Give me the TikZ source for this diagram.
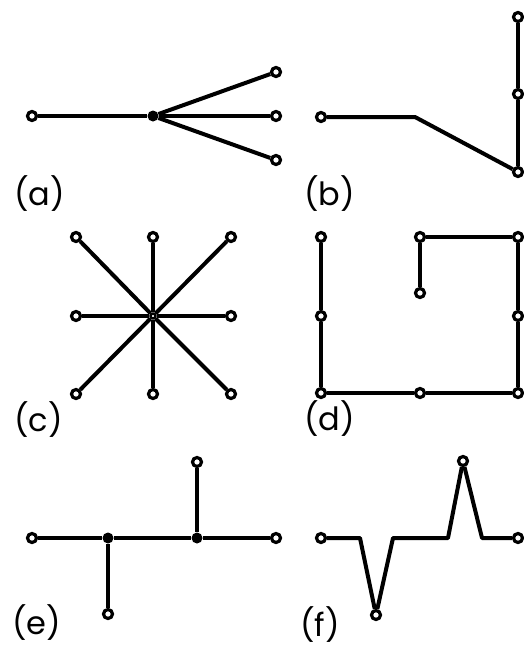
\documentclass[tikz,border=0pt]{standalone}
\usepackage{fontspec}
\setmainfont{Poppins}
\begin{document}
\begin{tikzpicture}[x=1pt,y=-1pt,
    vtx/.style={circle, draw, fill=white, line width=3.2pt, minimum size=9pt, inner sep=0pt},
    hub/.style={circle, fill=black, minimum size=11pt, inner sep=0pt},
    core/.style={circle, draw, fill=white, line width=2.4pt, minimum size=5pt, inner sep=0pt},
    edge/.style={line width=4pt, line join=round},
    lbl/.style={anchor=base west, inner sep=0pt, font=\fontsize{32}{34}\selectfont}]
  \useasboundingbox (0,0) rectangle (523,649);

  % (a)
  \node[vtx] (a1) at (32,116) {};
  \node[hub] (a0) at (153,116) {};
  \node[vtx] (a2) at (276,72) {};
  \node[vtx] (a3) at (276,116) {};
  \node[vtx] (a4) at (276,160) {};
  \draw[edge] (a1) -- (a0);
  \draw[edge] (a0) -- (a2);
  \draw[edge] (a0) -- (a3);
  \draw[edge] (a0) -- (a4);
  \node[lbl] (la) at (14,205) {(a)};

  % (b)
  \node[vtx] (b1) at (321,117) {};
  \coordinate (b2) at (415,117);
  \node[vtx] (b3) at (518,172) {};
  \node[vtx] (b4) at (518,94) {};
  \node[vtx] (b5) at (518,17) {};
  \draw[edge] (b1) -- (b2) -- (b3);
  \draw[edge] (b3) -- (b4);
  \draw[edge] (b4) -- (b5);
  \node[lbl] (lb) at (304,205) {(b)};

  % (c)
  \node[core] (c0) at (153,316) {};
  \foreach \n/\x/\y in {1/76/237, 2/153/237, 3/231/237, 4/76/316,
                        5/231/316, 6/76/394, 7/153/394, 8/231/394} {
    \node[vtx] (c\n) at (\x,\y) {};
    \draw[edge] (c0) -- (c\n);
  }
  \node[lbl] (lc) at (14,431) {(c)};

  % (d)
  \node[vtx] (d1) at (321,237) {};
  \node[vtx] (d2) at (321,316) {};
  \node[vtx] (d3) at (321,393) {};
  \node[vtx] (d4) at (420,393) {};
  \node[vtx] (d5) at (518,393) {};
  \node[vtx] (d6) at (518,316) {};
  \node[vtx] (d7) at (518,237) {};
  \node[vtx] (d8) at (420,237) {};
  \node[vtx] (d9) at (420,293) {};
  \draw[edge] (d1) -- (d2);
  \draw[edge] (d2) -- (d3);
  \draw[edge] (d3) -- (d4);
  \draw[edge] (d4) -- (d5);
  \draw[edge] (d5) -- (d6);
  \draw[edge] (d6) -- (d7);
  \draw[edge] (d7) -- (d8);
  \draw[edge] (d8) -- (d9);
  \node[lbl] (ld) at (304,430) {(d)};

  % (e)
  \node[vtx] (e1) at (32,538) {};
  \node[hub] (e2) at (108,538) {};
  \node[hub] (e3) at (197,538) {};
  \node[vtx] (e4) at (276,538) {};
  \node[vtx] (e5) at (197,462) {};
  \node[vtx] (e6) at (108,614) {};
  \draw[edge] (e1) -- (e2);
  \draw[edge] (e2) -- (e3);
  \draw[edge] (e3) -- (e4);
  \draw[edge] (e3) -- (e5);
  \draw[edge] (e2) -- (e6);
  \node[lbl] (le) at (12,634) {(e)};

  % (f)
  \node[vtx] (f1) at (321,538) {};
  \coordinate (f2) at (360,538);
  \node[vtx] (f3) at (376,615) {};
  \coordinate (f4) at (393,538);
  \coordinate (f5) at (448,538);
  \node[vtx] (f6) at (463,461) {};
  \coordinate (f7) at (482,538);
  \node[vtx] (f8) at (518,538) {};
  \draw[edge] (f1) -- (f2) -- (f3);
  \draw[edge] (f3) -- (f4) -- (f5) -- (f6);
  \draw[edge] (f6) -- (f7) -- (f8);
  \node[lbl] (lf) at (300,636) {(f)};
\end{tikzpicture}
\end{document}
